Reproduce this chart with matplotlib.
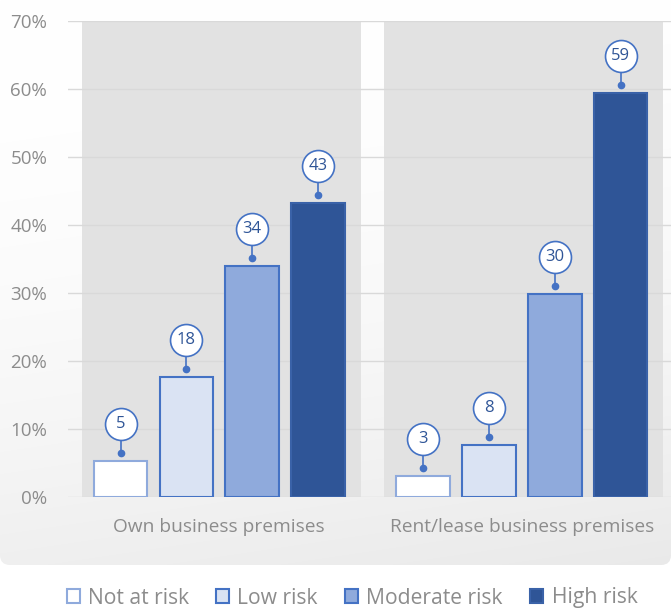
import numpy as np
import matplotlib.pyplot as plt
from matplotlib.patches import FancyBboxPatch, Patch

plt.rcParams['font.family'] = ['Open Sans', 'DejaVu Sans']

# ~~~~~~ Data ~~~~~~~~~~~~~~~~~~~~~~~~~~~~~~~~~~~~~~~~~~~~~~~~~~~~~~~~~~~~~~~~~

groups = ['Own business premises', 'Rent/lease business premises']
risk_levels = ['Not at risk', 'Low risk', 'Moderate risk', 'High risk']
own_pct = [5.3, 17.6, 33.9, 43.3]
rent_pct = [3.1, 7.6, 29.9, 59.4]
yticks = [0, 10, 20, 30, 40, 50, 60, 70]

fills = ['#ffffff', '#dae3f3', '#8faadc', '#2f5597']
edges = ['#8faadc', '#4472c4', '#4472c4', '#3a62a8']
label_col = '#2f5597'
callout_col = '#4472c4'
text_grey = '#8c8c8c'

W, H, DPI = 671, 610, 100
fig = plt.figure(figsize=(W / DPI, H / DPI), dpi=DPI)

# ~~~~~~ Background card with soft gradient ~~~~~~~~~~~~~~~~~~~~~~~~~~~~~~~~~~~

bg = fig.add_axes([0, 0, 1, 1], zorder=-5)
bg.set_xlim(0, W)
bg.set_ylim(H, 0)
bg.axis('off')
yy, xx = np.mgrid[0:565, 0:W]
t = (0.85 * yy / 565 + 0.15 * xx / W) ** 2
shade = 1 - 0.085 * t
img = bg.imshow(np.dstack([shade, shade, shade]), extent=(0, W, 565, 0),
                aspect='auto', interpolation='bilinear')
card = FancyBboxPatch((0, -20), W, 585, boxstyle='round,pad=0,rounding_size=10',
                      transform=bg.transData, facecolor='none', edgecolor='none')
bg.add_patch(card)
img.set_clip_path(card)

# ~~~~~~ Main axes ~~~~~~~~~~~~~~~~~~~~~~~~~~~~~~~~~~~~~~~~~~~~~~~~~~~~~~~~~~~~

ax_l, ax_r, ax_t, ax_b = 68, 671, 21, 497
ax = fig.add_axes([ax_l / W, 1 - ax_b / H, (ax_r - ax_l) / W, (ax_b - ax_t) / H])
ax.set_facecolor('none')
ax.set_xlim(-0.5, 1.493)
ax.set_ylim(0, 70)
for s in ax.spines.values():
    s.set_visible(False)

px = 70 / (ax_b - ax_t)   # data units per pixel on y

for gx in range(len(groups)):
    ax.axvspan(gx - 0.455, gx + 0.467, color='#e2e2e2', lw=0, zorder=0)

for yv in yticks:
    ax.axhline(yv, color='#d9d9d9', lw=1, zorder=0.5)

step, width = 0.2175, 0.177
offsets = (np.arange(len(risk_levels)) - 1.5) * step

for gx, vals in enumerate([own_pct, rent_pct]):
    xs = gx + offsets
    ax.bar(xs, vals, width=width, color=fills, edgecolor=edges, linewidth=1.5, zorder=2)
    for x, v in zip(xs, vals):
        dot_y = v + 8 * px
        circ_y = dot_y + 29 * px
        ax.plot([x, x], [dot_y, circ_y], color=callout_col, lw=1.2, zorder=3)
        ax.plot(x, dot_y, 'o', ms=4.5, color=callout_col, zorder=4)
        ax.plot(x, circ_y, 'o', ms=23, mfc='white', mec=callout_col, mew=1.2, zorder=5)
        ax.text(x, circ_y, f'{v:.0f}', ha='center', va='center', fontsize=12,
                color=label_col, zorder=6)

ax.set_yticks(yticks)
ax.set_yticklabels([f'{v}%' for v in yticks])
ax.set_xticks(range(len(groups)))
ax.set_xticklabels(groups)
ax.tick_params(axis='y', length=0, pad=15, labelsize=13.5, labelcolor=text_grey)
ax.tick_params(axis='x', length=0, pad=15, labelsize=13.8, labelcolor=text_grey)

handles = [Patch(facecolor=f, edgecolor=e, linewidth=1.5) for f, e in zip(fills, edges)]
fig.legend(handles, risk_levels, loc='center', bbox_to_anchor=(352 / W, 1 - 598 / H),
           ncol=4, frameon=False, fontsize=15.2, labelcolor=text_grey,
           handlelength=0.62, handleheight=0.62, handletextpad=0.38, columnspacing=1.3)

fig.savefig('out.png', dpi=DPI)
